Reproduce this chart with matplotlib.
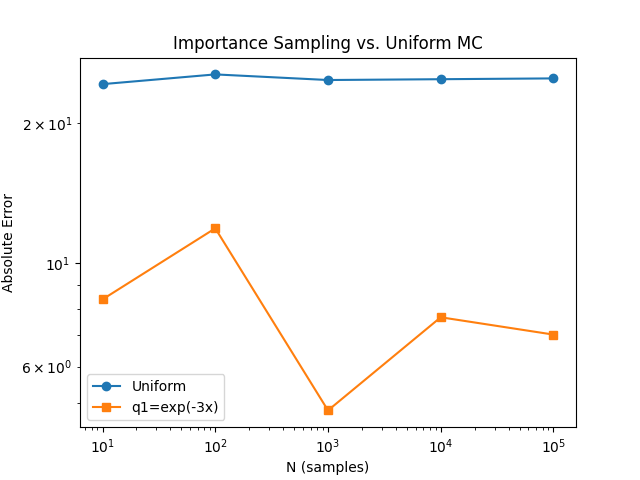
import matplotlib
matplotlib.use('Agg')
import matplotlib.pyplot as plt

n_samples = [10, 100, 1000, 10000, 100000]
err_uniform = [24.3, 25.5, 24.8, 24.9, 25.0]
err_q1 = [8.37, 11.9, 4.83, 7.66, 7.03]

fig, ax = plt.subplots(figsize=(6.4, 4.8), dpi=100)
ax.loglog(n_samples, err_uniform, marker='o', label='Uniform')
ax.loglog(n_samples, err_q1, marker='s', label='q1=exp(-3x)')
ax.set_xlabel('N (samples)')
ax.set_ylabel('Absolute Error')
ax.set_title('Importance Sampling vs. Uniform MC')
ax.legend(loc='lower left')
fig.savefig('out.png')
